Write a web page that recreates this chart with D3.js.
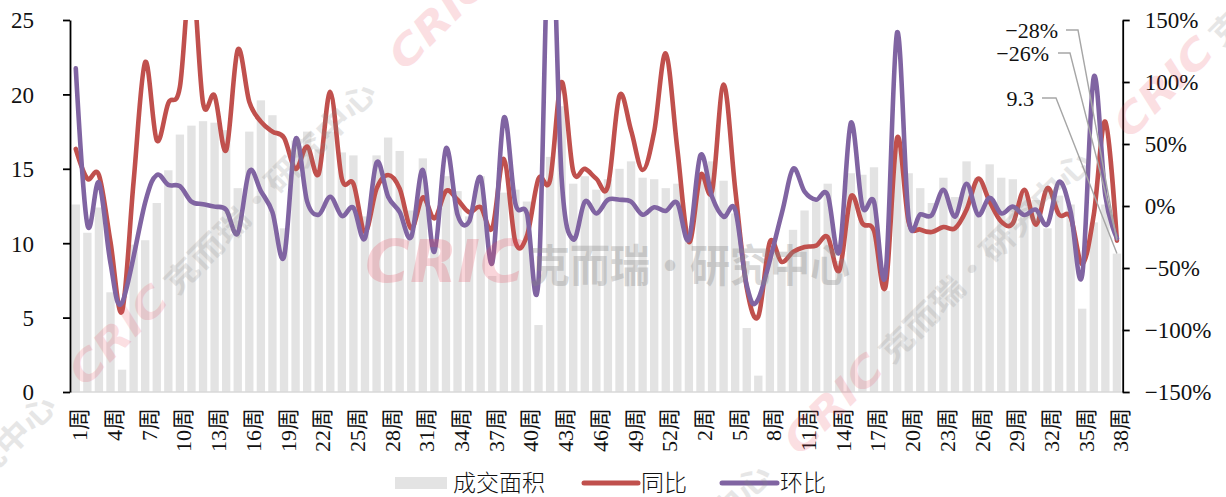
<!DOCTYPE html>
<html>
<head>
<meta charset="utf-8">
<script src="https://cdn.jsdelivr.net/npm/d3@7"></script>
<style>
  body { margin: 0; background: #fff; }
  svg { display: block; }
</style>
</head>
<body>
<svg id="chart" width="1226" height="497"></svg>
<script>
// Weekly categories: 53 weeks of the first year, then weeks 1-38 of the next
const categories = [
  "1周","2周","3周","4周","5周","6周","7周","8周","9周","10周",
  "11周","12周","13周","14周","15周","16周","17周","18周","19周","20周",
  "21周","22周","23周","24周","25周","26周","27周","28周","29周","30周",
  "31周","32周","33周","34周","35周","36周","37周","38周","39周","40周",
  "41周","42周","43周","44周","45周","46周","47周","48周","49周","50周",
  "51周","52周","53周",
  "1周","2周","3周","4周","5周","6周","7周","8周","9周","10周",
  "11周","12周","13周","14周","15周","16周","17周","18周","19周","20周",
  "21周","22周","23周","24周","25周","26周","27周","28周","29周","30周",
  "31周","32周","33周","34周","35周","36周","37周","38周"
];

// 成交面积 (left axis)
const area = [
  12.6, 10.7, 12.4, 6.7, 1.5, 9.9, 10.2, 12.7, 14.9, 17.3,
  17.9, 18.2, 18.1, 17.6, 13.7, 17.5, 19.6, 18.6, 11.0, 16.9,
  17.5, 16.3, 17.5, 16.1, 15.9, 11.8, 15.9, 17.1, 16.2, 12.2,
  15.7, 9.9, 14.5, 13.5, 11.8, 14.5, 7.8, 13.4, 13.6, 12.8,
  4.5, 15.8, 19.2, 14.0, 14.5, 13.6, 14.3, 15.0, 15.5, 14.4,
  14.3, 13.7, 14.0,
  10.2, 14.4, 15.5, 14.2, 12.0, 4.3, 1.1, 9.0, 8.4, 10.9,
  12.2, 12.8, 14.0, 8.8, 14.7, 14.6, 15.1, 6.8, 16.3, 14.7,
  13.7, 12.7, 14.4, 13.1, 15.5, 14.4, 15.3, 14.4, 14.3, 13.3,
  12.9, 11.0, 13.2, 12.6, 5.6, 11.4, 12.6, 9.3
];

// 同比, % (right axis)
const yoy = [
  46, 22, 25, -29, -85, 20, 116, 53, 83, 96,
  190, 83, 89, 45, 126, 84, 68, 60, 55, 30,
  48, 26, 92, 22, 18, -21, 14, 25, 14, -18,
  7, -10, 12, 5, -5, -1, -18, 38, -29, -24,
  22, 21, 100, 28, 30, 22, 16, 89, 61, 29,
  60, 123, 46,
  -29, 25, 12, 98, 14, -66, -89, -29, -45, -37,
  -33, -32, -25, -52, 7.5, -14, -20, -65, 55, -13,
  -19, -21, -17, -18, -3, 22, 3.5, -12.6, -14, 13,
  -15, 14.5, -7, -9, -47, -7, 68, -28
];

// 环比, % (right axis); null = no value, the line runs straight across
const mom = [
  111, -15, 19, -46, -78, null, 3, 25, 17, 16,
  3.5, 1.5, -0.5, -3, -22, 28, 12, -5, -41, 54,
  3.5, -7, 7.5, -8, -1.4, -26, 35, 7.5, -5, -25,
  29, -37, 46.5, -7, -12.6, 23, -46, 71, 2, -6,
  -60, 250, 22, -27, 3.5, -6, 5, 5, 3.5, -7,
  -1, -4, 2.4,
  -27, 41, 7.5, -8.6, -3, -64, -75, null, -7, 30,
  11.5, 5, 9, -37, 67, -0.5, 3.5, -55, 140, -10,
  -6.7, -7.3, 13, -8.6, 18, -7.3, 6.7, -6, -0.5, -7.3,
  -3, -14.8, 19.6, -4.6, -55.6, 104, 8.4, -26
];

const leftTicks = [0, 5, 10, 15, 20, 25];
const rightTicks = [-150, -100, -50, 0, 50, 100, 150];
const labelStep = 3;

const SERIF = '"Liberation Serif", "Noto Sans CJK SC", serif';
const CJK = '"Noto Sans CJK SC", sans-serif';
const BAR = "#e3e3e3", RED = "#c0504d", PURPLE = "#8064a2";

const plot = { left: 70, right: 1122.7, top: 20, bottom: 392 };
const svg = d3.select("#chart");

const x = d3.scaleBand()
  .domain(d3.range(categories.length))
  .range([plot.left, plot.right])
  .paddingInner(0.28)
  .paddingOuter(0.14);
const cx = i => x(i) + x.bandwidth() / 2;
const yL = d3.scaleLinear().domain([0, 25]).range([plot.bottom, plot.top]);
const yR = d3.scaleLinear().domain([-150, 150]).range([plot.bottom, plot.top]);

// bars
svg.append("g").selectAll("rect")
  .data(area)
  .join("rect")
  .attr("x", (d, i) => x(i))
  .attr("width", x.bandwidth())
  .attr("y", d => yL(d))
  .attr("height", d => yL(0) - yL(d))
  .attr("fill", BAR);

// category baseline
svg.append("line")
  .attr("x1", plot.left).attr("x2", plot.right)
  .attr("y1", plot.bottom).attr("y2", plot.bottom)
  .attr("stroke", "#d9d9d9").attr("stroke-width", 1.5);

// lines, clipped to the plot area
svg.append("clipPath").attr("id", "plotClip")
  .append("rect")
  .attr("x", plot.left).attr("y", plot.top)
  .attr("width", plot.right - plot.left + 10)
  .attr("height", plot.bottom - plot.top);

const lineGen = d3.line()
  .x(d => d[0]).y(d => yR(d[1]))
  .curve(d3.curveCardinal.tension(0));

const linesG = svg.append("g").attr("clip-path", "url(#plotClip)");
[[yoy, RED], [mom, PURPLE]].forEach(([series, color]) => {
  const pts = series.map((v, i) => [cx(i), v]).filter(p => p[1] != null);
  linesG.append("path")
    .attr("d", lineGen(pts))
    .attr("fill", "none")
    .attr("stroke", color)
    .attr("stroke-width", 4.6)
    .attr("stroke-linejoin", "round")
    .attr("stroke-linecap", "round");
});

// axes
function styleAxis(g) {
  g.select(".domain").attr("stroke", "#000").attr("stroke-width", 1.8);
  g.selectAll(".tick line").attr("stroke", "#000").attr("stroke-width", 1.8);
  g.selectAll(".tick text")
    .attr("font-family", SERIF).attr("font-size", 23).attr("fill", "#111");
}

svg.append("g")
  .attr("transform", `translate(${plot.left},0)`)
  .call(d3.axisLeft(yL).tickValues(leftTicks).tickSize(7).tickSizeOuter(0).tickPadding(29))
  .call(styleAxis)
  .call(g => g.selectAll(".tick text").attr("dy", "0.34em"));

const pct = d3.format("d");
svg.append("g")
  .attr("transform", `translate(${plot.right},0)`)
  .call(d3.axisRight(yR).tickValues(rightTicks).tickSize(7).tickSizeOuter(0).tickPadding(15)
    .tickFormat(d => pct(d) + "%"))
  .call(styleAxis)
  .call(g => g.selectAll(".tick text").attr("dy", "0.34em"));

// rotated week labels, every third category
svg.append("g").selectAll("text")
  .data(d3.range(0, categories.length, labelStep))
  .join("text")
  .attr("transform", i => `translate(${cx(i) + 4},408) rotate(-90)`)
  .attr("text-anchor", "end")
  .attr("dominant-baseline", "central")
  .attr("font-family", SERIF)
  .attr("font-size", 22)
  .attr("fill", "#111")
  .text(i => categories[i]);

// end-of-series value labels with leader lines
const last = categories.length - 1;
const signed = v => (v < 0 ? "\u2212" : "") + Math.abs(v);
const callouts = [
  { text: signed(yoy[last]) + "%", tx: 1058, ty: 30, x0: 1066, x1: 1078, end: [cx(last), yR(yoy[last])] },
  { text: signed(mom[last]) + "%", tx: 1049, ty: 53, x0: 1058, x1: 1070, end: [cx(last), yR(mom[last])] },
  { text: String(area[last]), tx: 1034, ty: 98, x0: 1042, x1: 1056, end: [cx(last), yL(area[last])] }
];
const callG = svg.append("g");
callouts.forEach(c => {
  callG.append("polyline")
    .attr("points", [[c.x0, c.ty], [c.x1, c.ty], c.end].map(p => p.join(",")).join(" "))
    .attr("fill", "none").attr("stroke", "#a6a6a6").attr("stroke-width", 1.4);
  callG.append("text")
    .attr("x", c.tx).attr("y", c.ty)
    .attr("text-anchor", "end").attr("dominant-baseline", "central")
    .attr("font-family", SERIF).attr("font-size", 22).attr("fill", "#111")
    .text(c.text);
});

// legend
const lg = svg.append("g");
lg.append("rect").attr("x", 395).attr("y", 477).attr("width", 52).attr("height", 12).attr("fill", BAR);
lg.append("line").attr("x1", 584).attr("x2", 638).attr("y1", 483).attr("y2", 483)
  .attr("stroke", RED).attr("stroke-width", 5).attr("stroke-linecap", "round");
lg.append("line").attr("x1", 722).attr("x2", 777).attr("y1", 483).attr("y2", 483)
  .attr("stroke", PURPLE).attr("stroke-width", 5).attr("stroke-linecap", "round");
[["成交面积", 453], ["同比", 641], ["环比", 780]].forEach(([t, lx]) => {
  lg.append("text").attr("x", lx).attr("y", 481)
    .attr("dominant-baseline", "central")
    .attr("font-family", CJK).attr("font-weight", 300).attr("font-size", 23).attr("fill", "#111")
    .text(t);
});

// watermark
const wmG = svg.append("g").attr("pointer-events", "none");
function watermark(x0, y0, angle, cSize, cLen, tSize, tStart, tLen, cOpacity, tOpacity) {
  const g = wmG.append("g").attr("transform", `translate(${x0},${y0}) rotate(${angle})`);
  g.append("text")
    .attr("font-family", '"DejaVu Sans", sans-serif')
    .attr("font-weight", "bold").attr("font-style", "italic")
    .attr("font-size", cSize)
    .attr("textLength", cLen).attr("lengthAdjust", "spacingAndGlyphs")
    .attr("fill", "#e8455a").attr("opacity", cOpacity)
    .text("CRIC");
  g.append("text")
    .attr("x", tStart)
    .attr("font-family", CJK).attr("font-weight", 700)
    .attr("font-size", tSize)
    .attr("textLength", tLen).attr("lengthAdjust", "spacingAndGlyphs")
    .attr("fill", "#888").attr("opacity", tOpacity)
    .text("克而瑞·研究中心");
}
watermark(365, 282, 0, 58, 160, 44, 165, 320, 0.22, 0.32);
[[85, 388], [800, 457], [405, 72], [1130, 140], [-235, 701], [480, 770]].forEach(([a, b]) =>
  watermark(a, b, -45, 40, 122, 30, 130, 285, 0.17, 0.2));
</script>
</body>
</html>
